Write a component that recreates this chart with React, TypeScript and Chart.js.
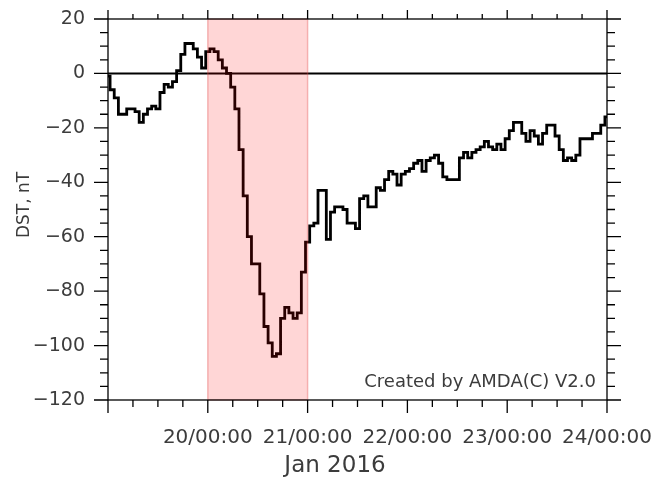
import React, { useEffect, useRef } from "react";
import { Chart, registerables } from "chart.js";

Chart.register(...registerables);

// Hourly DST index (nT), starting 2016-01-19 00:00 UT, one value per hour
const dstValues: number[] = [
  -1, -6, -9, -15, -15, -13, -13, -14, -18, -15, -13, -12,
  -13, -7, -4, -5, -3, 1, 7, 11, 11, 9, 6, 2,
  8, 9, 8, 5, 2, 0, -5, -13, -28, -45, -60, -70,
  -70, -81, -93, -99, -104, -103, -90, -86, -88, -90, -88, -73,
  -62, -56, -55, -43, -43, -61, -51, -49, -49, -50, -55, -55,
  -57, -46, -45, -49, -49, -42, -43, -39, -36, -37, -41, -37,
  -36, -35, -33, -32, -36, -32, -31, -30, -33, -38, -39, -39,
  -39, -31, -29, -31, -29, -28, -27, -25, -27, -28, -26, -28,
  -24, -21, -18, -18, -22, -25, -21, -23, -26, -22, -19, -19,
  -23, -28, -32, -31, -32, -30, -24, -24, -24, -22, -22, -19,
  -16,
];

const xTickValues: number[] = [0, 24, 48, 72, 96, 120];
const xTickLabels: string[] = ["", "20/00:00", "21/00:00", "22/00:00", "23/00:00", "24/00:00"];
const yTickValues: number[] = [20, 0, -20, -40, -60, -80, -100, -120];
const highlightRange: number[] = [24, 48];
const xTitle = "Jan 2016";
const yTitle = "DST, nT";
const creditText = "Created by AMDA(C) V2.0";

const FONT = '"DejaVu Sans", "Liberation Sans", sans-serif';
const TEXT_COLOR = "#3c3c3c";

const fmtY = (v: number) => (v < 0 ? "\u2212" + Math.abs(v) : String(v));

const decorPlugin = {
  id: "decor",
  beforeDatasetsDraw(chart: any) {
    const { ctx, chartArea: a, scales } = chart;
    const y0 = scales.y.getPixelForValue(0);
    ctx.save();
    ctx.strokeStyle = "#000";
    ctx.lineWidth = 2;
    ctx.beginPath();
    ctx.moveTo(a.left, y0);
    ctx.lineTo(a.right, y0);
    ctx.stroke();
    ctx.restore();
  },
  afterDatasetsDraw(chart: any) {
    const { ctx, chartArea: a, scales } = chart;
    const xs = scales.x;
    const ys = scales.y;
    ctx.save();
    // highlighted interval
    const x1 = xs.getPixelForValue(highlightRange[0]);
    const x2 = xs.getPixelForValue(highlightRange[1]);
    ctx.fillStyle = "rgba(255, 0, 0, 0.16)";
    ctx.fillRect(x1, a.top, x2 - x1, a.bottom - a.top);
    ctx.strokeStyle = "rgba(225, 70, 70, 0.35)";
    ctx.lineWidth = 1.5;
    ctx.strokeRect(x1, a.top, x2 - x1, a.bottom - a.top);

    // frame
    ctx.strokeStyle = "#000";
    ctx.lineWidth = 1.3;
    ctx.strokeRect(a.left, a.top, a.right - a.left, a.bottom - a.top);

    // x ticks (major every day, minor every 6 h)
    ctx.beginPath();
    for (let v = xs.min; v <= xs.max; v += 6) {
      const major = v % 24 === 0;
      const px = xs.getPixelForValue(v);
      ctx.moveTo(px, a.bottom);
      ctx.lineTo(px, a.bottom + (major ? 13 : 7));
      ctx.moveTo(px, a.top);
      ctx.lineTo(px, a.top - (major ? 9 : 5));
    }
    // y ticks (major every 20, minor every 5)
    for (let v = ys.min; v <= ys.max; v += 5) {
      const major = v % 20 === 0;
      const py = ys.getPixelForValue(v);
      ctx.moveTo(a.left, py);
      ctx.lineTo(a.left - (major ? 14 : 8), py);
      ctx.moveTo(a.right, py);
      ctx.lineTo(a.right + (major ? 14 : 8), py);
    }
    ctx.stroke();

    // texts
    ctx.fillStyle = TEXT_COLOR;
    ctx.textBaseline = "middle";
    ctx.font = `18px ${FONT}`;
    ctx.textAlign = "right";
    ctx.fillText(creditText, a.right - 11, a.bottom - 18);

    ctx.font = `23px ${FONT}`;
    ctx.textAlign = "center";
    ctx.fillText(xTitle, 335, 466);

    ctx.translate(25, 205);
    ctx.rotate(-Math.PI / 2);
    ctx.font = `17px ${FONT}`;
    ctx.fillText(yTitle, 0, 0);
    ctx.restore();
  },
};

export default function App() {
  const canvasRef = useRef<HTMLCanvasElement | null>(null);

  useEffect(() => {
    if (!canvasRef.current) return;
    const chart = new Chart(canvasRef.current, {
      type: "line",
      data: {
        datasets: [
          {
            label: "DST",
            data: dstValues.map((v, i) => ({ x: i, y: v })),
            borderColor: "#000",
            borderWidth: 2.8,
            pointRadius: 0,
            stepped: "middle",
            fill: false,
          },
        ],
      },
      options: {
        responsive: false,
        maintainAspectRatio: false,
        devicePixelRatio: 1,
        animation: false,
        layout: { padding: { top: 19, right: 47, left: 0, bottom: 0 } },
        plugins: { legend: { display: false }, tooltip: { enabled: false } },
        scales: {
          x: {
            type: "linear",
            min: 0,
            max: 120,
            afterBuildTicks: (s: any) => {
              s.ticks = xTickValues.map((v) => ({ value: v }));
            },
            afterFit: (s: any) => {
              s.height = 78;
              s.paddingLeft = 0;
              s.paddingRight = 0;
            },
            grid: { display: false },
            border: { display: false },
            ticks: {
              autoSkip: false,
              maxRotation: 0,
              minRotation: 0,
              padding: 18,
              color: TEXT_COLOR,
              font: { family: FONT, size: 20 },
              callback: (v: any) => {
                const i = xTickValues.indexOf(Number(v));
                return i >= 0 ? xTickLabels[i] : "";
              },
            },
          },
          y: {
            type: "linear",
            min: -120,
            max: 20,
            afterBuildTicks: (s: any) => {
              s.ticks = yTickValues.map((v) => ({ value: v }));
            },
            afterFit: (s: any) => {
              s.width = 108;
              s.paddingTop = 0;
              s.paddingBottom = 0;
            },
            grid: { display: false },
            border: { display: false },
            ticks: {
              autoSkip: false,
              padding: 15,
              color: TEXT_COLOR,
              font: { family: FONT, size: 19 },
              callback: (v: any) => fmtY(Number(v)),
            },
          },
        },
      },
      plugins: [decorPlugin],
    });
    return () => chart.destroy();
  }, []);

  return (
    <div style={{ position: "fixed", left: 0, top: 0, width: 654, height: 478, background: "#fff" }}>
      <canvas ref={canvasRef} width={654} height={478} style={{ width: 654, height: 478, display: "block" }} />
    </div>
  );
}
